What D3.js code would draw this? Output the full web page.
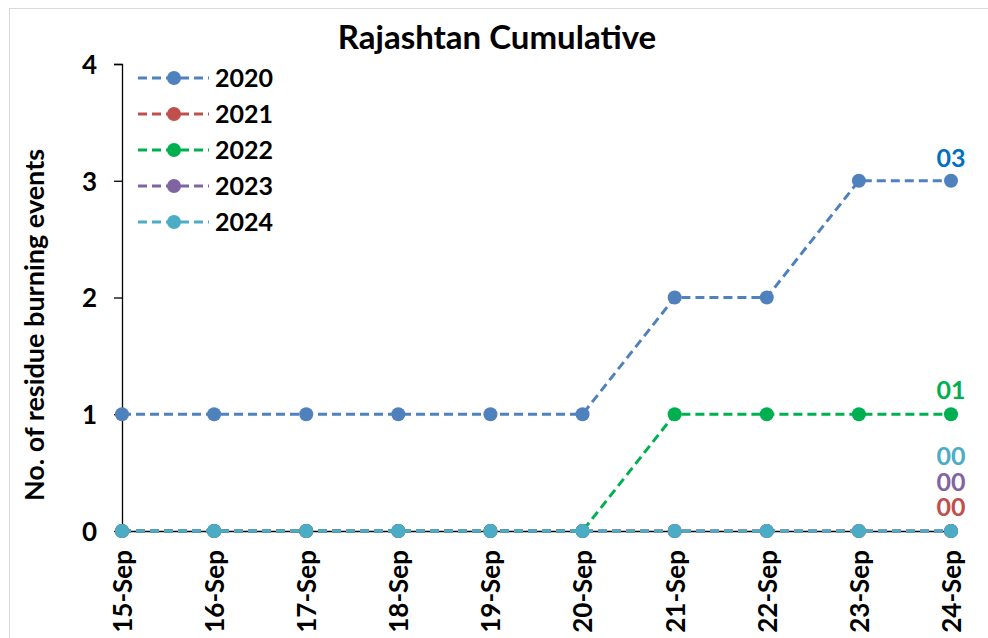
<!DOCTYPE html>
<html>
<head>
<meta charset="utf-8">
<script src="https://cdn.jsdelivr.net/npm/d3@7"></script>
<style>
  body { margin: 0; background: #fff; }
  text { font-family: Lato, "Open Sans", sans-serif; font-weight: bold; }
</style>
</head>
<body>
<script>
const dates = ["15-Sep", "16-Sep", "17-Sep", "18-Sep", "19-Sep", "20-Sep", "21-Sep", "22-Sep", "23-Sep", "24-Sep"];
const years = ["2020", "2021", "2022", "2023", "2024"];
const v2020 = [1, 1, 1, 1, 1, 1, 2, 2, 3, 3];
const v2021 = [0, 0, 0, 0, 0, 0, 0, 0, 0, 0];
const v2022 = [0, 0, 0, 0, 0, 0, 1, 1, 1, 1];
const v2023 = [0, 0, 0, 0, 0, 0, 0, 0, 0, 0];
const v2024 = [0, 0, 0, 0, 0, 0, 0, 0, 0, 0];
const yTicks = [0, 1, 2, 3, 4];
const endLabels = ["03", "00", "01", "00", "00"];

const width = 988, height = 638;
const colors = ["#4f81bd", "#c0504d", "#00b050", "#8064a2", "#4bacc6"];
const labelColors = ["#0070c0", "#c0504d", "#00b050", "#8064a2", "#4bacc6"];
// end label rows (the zero ones are stacked above the last point)
const labelY = [158, 507, 390, 482, 456];

const series = years.map((y, i) => ({
  year: y,
  values: [v2020, v2021, v2022, v2023, v2024][i],
  color: colors[i]
}));

const svg = d3.select("body").append("svg")
  .attr("width", width).attr("height", height);

svg.append("rect")
  .attr("x", 9.5).attr("y", 8.5)
  .attr("width", width + 20).attr("height", height + 20)
  .attr("fill", "#fff").attr("stroke", "#d9d9d9");

const x = d3.scalePoint().domain(dates).range([122, 951]);
const y = d3.scaleLinear().domain([0, 4]).range([531, 64]);

// y axis
const yAxis = svg.append("g")
  .attr("transform", "translate(122,0)")
  .call(d3.axisLeft(y).tickValues(yTicks).tickSize(8).tickPadding(17).tickFormat(d3.format("d")));
yAxis.selectAll("text").attr("font-size", 26).attr("fill", "#000").attr("dy", "0.36em");
yAxis.select(".domain").attr("stroke", "#000").attr("stroke-width", 1.3).attr("d", "M-8,64.5H0.5V531.5");
yAxis.selectAll(".tick line").attr("stroke", "#000").attr("stroke-width", 1.3);

// x axis
const xAxis = svg.append("g")
  .attr("transform", "translate(0,531)")
  .call(d3.axisBottom(x).tickSize(6).tickSizeOuter(0));
xAxis.select(".domain").attr("stroke", "#000").attr("stroke-width", 1.3);
xAxis.selectAll(".tick line").attr("stroke", "#000").attr("stroke-width", 1.3);
xAxis.selectAll("text")
  .attr("font-size", 26).attr("fill", "#000")
  .attr("transform", "rotate(-90)")
  .attr("text-anchor", "end")
  .attr("x", -19).attr("y", 0).attr("dy", "0.36em");

// title
svg.append("text")
  .attr("x", 497).attr("y", 49)
  .attr("text-anchor", "middle")
  .attr("font-size", 33)
  .text("Rajashtan Cumulative");

// y axis title
svg.append("text")
  .attr("transform", "translate(44,325) rotate(-90)")
  .attr("text-anchor", "middle")
  .attr("font-size", 27)
  .text("No. of residue burning events");

// lines
const line = d3.line().x((d, i) => x(dates[i])).y(d => y(d));

const g = svg.append("g");
series.forEach(s => {
  g.append("path")
    .datum(s.values)
    .attr("d", line)
    .attr("fill", "none")
    .attr("stroke", s.color)
    .attr("stroke-width", 3)
    .attr("stroke-dasharray", "9,5");
  g.selectAll(null)
    .data(s.values)
    .enter().append("circle")
    .attr("cx", (d, i) => x(dates[i]))
    .attr("cy", d => y(d))
    .attr("r", 7)
    .attr("fill", s.color);
});

// end labels
series.forEach((s, i) => {
  svg.append("text")
    .attr("x", x(dates[dates.length - 1]))
    .attr("y", labelY[i])
    .attr("dy", "0.36em")
    .attr("text-anchor", "middle")
    .attr("font-size", 25)
    .attr("fill", labelColors[i])
    .text(endLabels[i]);
});

// legend
const legend = svg.append("g");
series.forEach((s, i) => {
  const ly = 78 + i * 36;
  legend.append("line")
    .attr("x1", 138).attr("x2", 209)
    .attr("y1", ly).attr("y2", ly)
    .attr("stroke", s.color).attr("stroke-width", 3)
    .attr("stroke-dasharray", "9,5");
  legend.append("circle")
    .attr("cx", 174).attr("cy", ly).attr("r", 7).attr("fill", s.color);
  legend.append("text")
    .attr("x", 215).attr("y", ly).attr("dy", "0.36em")
    .attr("font-size", 25)
    .text(s.year);
});
</script>
</body>
</html>
